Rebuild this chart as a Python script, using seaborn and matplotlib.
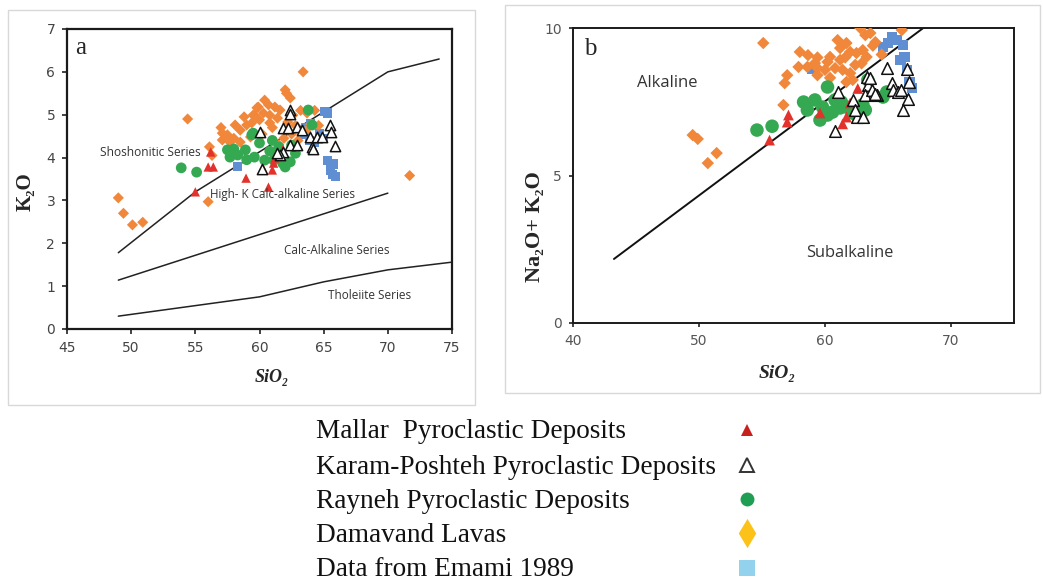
import matplotlib
matplotlib.use("Agg")
import matplotlib.pyplot as plt
import seaborn as sns
import pandas as pd
from matplotlib.patches import Rectangle
from matplotlib.lines import Line2D

# ---------------- data: panel a (SiO2 vs K2O) ----------------
a_dam_sio2 = [49.0, 49.4, 50.1, 50.9, 56.0, 54.4, 71.7, 63.4, 62.0, 62.1, 62.4, 60.4, 60.7,
              59.8, 61.2, 61.6, 60.3, 60.8, 59.6, 60.0, 61.4, 62.6, 63.2, 63.7, 64.3, 62.2,
              59.4, 60.8, 57.1, 57.5, 58.1, 58.5, 59.0, 59.5, 59.9, 57.1, 57.7, 58.5, 59.3,
              56.1, 56.3, 58.8, 61.0, 62.8, 63.6, 64.0, 61.9, 60.2, 58.0, 57.0, 61.5, 63.0,
              62.5, 64.6]
a_dam_k2o = [3.06, 2.70, 2.43, 2.49, 2.97, 4.90, 3.58, 6.00, 5.58, 5.50, 5.39, 5.34, 5.23,
             5.16, 5.18, 5.11, 5.04, 4.99, 4.99, 4.88, 4.92, 4.99, 5.10, 5.04, 5.10, 4.83,
             4.81, 4.81, 4.57, 4.53, 4.76, 4.64, 4.76, 4.99, 5.18, 4.41, 4.36, 4.36, 4.48,
             4.25, 4.05, 4.95, 4.70, 4.75, 4.62, 4.78, 4.45, 4.55, 4.45, 4.70, 4.30, 4.40,
             4.55, 4.75]

a_mal_sio2 = [55.0, 56.2, 56.0, 56.4, 58.95, 60.7, 60.3, 61.2, 61.8, 61.0, 61.1]
a_mal_k2o = [3.20, 4.13, 3.78, 3.78, 3.52, 3.31, 3.73, 3.99, 4.18, 3.71, 3.87]

a_ray_sio2 = [53.9, 55.1, 57.5, 57.7, 58.3, 58.9, 59.4, 59.5, 60.0, 59.6, 60.4, 61.1, 61.8,
              62.0, 62.4, 62.5, 62.8, 63.8, 64.1, 60.8, 61.5, 59.0, 58.0, 61.0]
a_ray_k2o = [3.76, 3.66, 4.18, 4.01, 4.06, 4.18, 4.53, 4.57, 4.34, 4.01, 3.94, 3.94, 3.87,
             3.78, 3.90, 4.29, 4.10, 5.11, 4.76, 4.15, 4.25, 3.95, 4.20, 4.40]

a_kar_sio2 = [62.4, 62.4, 60.0, 61.8, 62.2, 62.9, 63.3, 63.9, 64.5, 64.9, 65.5, 65.6, 62.4,
              62.9, 64.1, 65.9, 61.8, 61.6, 60.2, 61.4, 64.2]
a_kar_k2o = [5.10, 5.02, 4.60, 4.69, 4.69, 4.71, 4.64, 4.48, 4.48, 4.48, 4.76, 4.60, 4.29,
             4.29, 4.25, 4.27, 4.13, 4.06, 3.73, 4.10, 4.20]

a_ema_sio2 = [58.3, 65.3, 64.7, 63.5, 63.9, 64.3, 65.0, 65.3, 65.5, 65.7, 65.9, 65.8, 64.0,
              63.6, 65.1]
a_ema_k2o = [3.80, 5.04, 4.57, 4.53, 4.40, 4.35, 4.45, 3.94, 3.71, 3.60, 3.55, 3.85, 4.80,
             4.70, 5.07]

# series boundaries (Peccerillo & Taylor type)
sho_x = [49, 55, 70, 74]
sho_y = [1.78, 3.20, 6.00, 6.30]
hk_x = [49, 70]
hk_y = [1.14, 3.17]
tho_x = [49, 60, 65, 70, 75]
tho_y = [0.30, 0.75, 1.10, 1.38, 1.56]

# ---------------- data: panel b (SiO2 vs total alkalis) ----------------
b_dam_sio2 = [49.5, 49.9, 51.4, 50.7, 55.1, 58.0, 58.65, 59.4, 57.9, 57.0, 56.8, 58.6, 59.2,
              60.2, 59.4, 60.0, 60.8, 60.4, 61.0, 61.2, 61.7, 62.8, 63.2, 63.6, 64.0, 62.0,
              62.5, 63.0, 63.3, 61.2, 61.4, 62.0, 62.4, 61.7, 62.2, 60.4, 59.4, 66.1, 56.7,
              64.5, 63.8, 62.9, 61.6]
b_dam_alk = [6.37, 6.24, 5.76, 5.42, 9.49, 9.19, 9.08, 9.00, 8.68, 8.40, 8.13, 8.68, 8.81,
             8.85, 8.64, 8.58, 8.64, 9.02, 9.59, 9.32, 9.49, 10.0, 9.76, 9.83, 9.52, 9.19,
             9.15, 9.25, 9.02, 8.92, 8.58, 8.47, 8.75, 8.17, 8.24, 8.31, 8.40, 9.93, 7.39,
             9.10, 9.40, 8.80, 9.00]

b_mal_sio2 = [55.6, 57.0, 57.1, 59.6, 61.4, 61.7, 62.0, 62.6]
b_mal_alk = [6.20, 6.81, 7.05, 7.12, 6.75, 6.98, 7.46, 7.95]

b_ray_sio2 = [54.6, 55.8, 58.3, 58.6, 59.2, 59.8, 60.2, 59.6, 60.2, 60.6, 61.2, 60.8, 61.3,
              61.7, 62.8, 63.2, 63.4, 64.6, 64.9, 62.2, 62.5, 61.0, 63.0]
b_ray_alk = [6.54, 6.67, 7.49, 7.22, 7.56, 7.32, 8.00, 6.88, 7.05, 7.15, 7.29, 7.56, 7.49,
             7.32, 7.29, 7.22, 8.24, 7.66, 7.83, 7.12, 7.05, 7.46, 7.40]

b_kar_sio2 = [61.0, 60.8, 63.3, 63.4, 62.2, 63.2, 63.7, 64.1, 64.9, 65.3, 65.4, 65.8, 66.5,
              66.7, 66.6, 66.2, 62.5, 63.0, 62.4, 63.6, 66.0, 64.0]
b_kar_alk = [7.83, 6.50, 8.34, 8.07, 7.56, 7.73, 7.90, 7.73, 8.64, 8.13, 7.90, 7.83, 8.60,
             8.17, 7.60, 7.22, 6.98, 6.98, 7.22, 8.30, 7.90, 7.75]

b_ema_sio2 = [59.0, 65.3, 65.7, 66.2, 64.6, 66.3, 66.0, 66.7, 66.5, 66.9, 65.0]
b_ema_alk = [8.62, 9.69, 9.59, 9.42, 9.36, 9.02, 8.92, 8.17, 8.58, 7.97, 9.50]

# alkaline / subalkaline divide
alk_x = [43.25, 67.8]
alk_y = [2.17, 10.0]

legend_labels = ["Mallar  Pyroclastic Deposits",
                 "Karam-Poshteh Pyroclastic Deposits",
                 "Rayneh Pyroclastic Deposits",
                 "Damavand Lavas",
                 "Data from Emami 1989"]

# ---------------- style ----------------
sns.set_style("ticks")
plt.rcParams['font.family'] = ['DejaVu Sans']

ORANGE = "#F0873A"
RED = "#E2322B"
GREEN = "#35A852"
BLUE = "#5F8FD2"

W, H = 1043, 584
fig = plt.figure(figsize=(W / 100, H / 100), dpi=100)

def fx(px):
    return px / W

def fy(py):
    return 1 - py / H

# light panel frames
fig.add_artist(Rectangle((fx(8), fy(405)), fx(475 - 8), (405 - 10) / H,
                         transform=fig.transFigure, fill=False, ec="#d8d8d8", lw=1))
fig.add_artist(Rectangle((fx(505), fy(393)), fx(1040 - 505), (393 - 5) / H,
                         transform=fig.transFigure, fill=False, ec="#d8d8d8", lw=1))

axa = fig.add_axes([fx(67), fy(329), fx(452 - 67), (329 - 29) / H])
axb = fig.add_axes([fx(573), fy(323), fx(1014 - 573), (323 - 28) / H])


def scatter_series(ax, x, y, marker, color, size, edge="none", lw=0.0, face=None):
    df = pd.DataFrame({"x": x, "y": y})
    sns.scatterplot(data=df, x="x", y="y", ax=ax, marker=marker, s=size,
                    color=face if face is not None else color,
                    edgecolor=edge, linewidth=lw, legend=False, zorder=3)


# ---- panel a ----
for xs, ys in [(sho_x, sho_y), (hk_x, hk_y), (tho_x, tho_y)]:
    axa.plot(xs, ys, color="#222222", lw=1.1, zorder=2)

scatter_series(axa, a_ema_sio2, a_ema_k2o, "s", BLUE, 42)
scatter_series(axa, a_dam_sio2, a_dam_k2o, "D", ORANGE, 32)
scatter_series(axa, a_ray_sio2, a_ray_k2o, "o", GREEN, 60)
scatter_series(axa, a_mal_sio2, a_mal_k2o, "^", RED, 45)
scatter_series(axa, a_kar_sio2, a_kar_k2o, "^", "white", 55, edge="#111111", lw=1.1,
               face="white")

axa.set_xlim(45, 75)
axa.set_ylim(0, 7)
axa.set_xticks([45, 50, 55, 60, 65, 70, 75])
axa.set_yticks(range(0, 8))
axa.tick_params(direction="out", length=3.5, width=1.2, labelsize=10, colors="#222222",
                labelcolor="#444444", pad=5)
for sp in axa.spines.values():
    sp.set_visible(True)
    sp.set_linewidth(1.6)
    sp.set_color("#1a1a1a")
axa.set_xlabel("")
axa.set_ylabel("")

lab_font = "Open Sans"
axa.text(45.6, 6.55, "a", fontsize=18, family="Liberation Serif", va="center", ha="left")
axa.text(51.5, 4.13, "Shoshonitic Series", fontsize=8.6, family=lab_font, color="#333333",
         ha="center", va="center")
axa.text(61.8, 3.13, "High- K Calc-alkaline Series", fontsize=8.4, family=lab_font,
         color="#333333", ha="center", va="center")
axa.text(66.0, 1.84, "Calc-Alkaline Series", fontsize=8.5, family=lab_font, color="#333333",
         ha="center", va="center")
axa.text(68.6, 0.79, "Tholeiite Series", fontsize=8.5, family=lab_font, color="#333333",
         ha="center", va="center")

fig.text(fx(272), fy(378), "SiO₂", fontsize=13, fontweight="bold", fontstyle="italic",
         family=["Liberation Serif", "DejaVu Serif"], ha="center", va="center")
fig.text(fx(26), fy(192), "K₂O", fontsize=15, fontweight="bold", rotation=90,
         family=["Liberation Serif", "DejaVu Serif"], ha="center", va="center")

# ---- panel b ----
axb.plot(alk_x, alk_y, color="#111111", lw=1.4, zorder=2)

scatter_series(axb, b_ema_sio2, b_ema_alk, "s", BLUE, 55)
scatter_series(axb, b_dam_sio2, b_dam_alk, "D", ORANGE, 40)
scatter_series(axb, b_ray_sio2, b_ray_alk, "o", GREEN, 95)
scatter_series(axb, b_mal_sio2, b_mal_alk, "^", RED, 60)
scatter_series(axb, b_kar_sio2, b_kar_alk, "^", "white", 70, edge="#111111", lw=1.1,
               face="white")

axb.set_xlim(40, 75)
axb.set_ylim(0, 10)
axb.set_xticks([40, 50, 60, 70])
axb.set_yticks([0, 5, 10])
axb.tick_params(direction="out", length=3, width=1.2, labelsize=10, colors="#222222",
                labelcolor="#555555", pad=5)
for sp in axb.spines.values():
    sp.set_visible(True)
    sp.set_linewidth(1.4)
    sp.set_color("#1a1a1a")
axb.set_xlabel("")
axb.set_ylabel("")

axb.text(40.9, 9.3, "b", fontsize=18, family="Liberation Serif", va="center", ha="left")
axb.text(47.5, 8.14, "Alkaline", fontsize=12, family=lab_font, color="#333333",
         ha="center", va="center")
axb.text(62.0, 2.37, "Subalkaline", fontsize=11.8, family=lab_font, color="#333333",
         ha="center", va="center")

fig.text(fx(777), fy(373), "SiO₂", fontsize=14, fontweight="bold", fontstyle="italic",
         family=["Liberation Serif", "DejaVu Serif"], ha="center", va="center")
fig.text(fx(535), fy(227), "Na₂O+ K₂O", fontsize=16, fontweight="bold", rotation=90,
         family=["Liberation Serif", "DejaVu Serif"], ha="center", va="center")

# ---- legend block ----
row_y = [432, 467, 501, 535, 570]
for lab, py in zip(legend_labels, row_y):
    fig.text(fx(316), fy(py), lab, fontsize=19.6, family="Liberation Serif", color="#111111",
             ha="left", va="center")

mk_x = fx(747)
legend_marks = [
    dict(marker="^", ms=9, mfc="#C8201C", mec="#C8201C", mew=0),
    dict(marker="^", ms=10, mfc="white", mec="#333333", mew=1.4),
    dict(marker="o", ms=10, mfc="#1F9E54", mec="#1F9E54", mew=0),
    dict(marker=[(0, 1), (0.6, 0), (0, -1), (-0.6, 0), (0, 1)], ms=21, mfc="#FCC21A",
         mec="#FCC21A", mew=0),
    dict(marker="s", ms=11, mfc="#93D2EC", mec="#93D2EC", mew=0),
]
for py, mk in zip(row_y, legend_marks):
    fig.add_artist(Line2D([mk_x], [fy(py - 2)], transform=fig.transFigure, ls="none", **mk))

fig.savefig("out.png", dpi=100)
